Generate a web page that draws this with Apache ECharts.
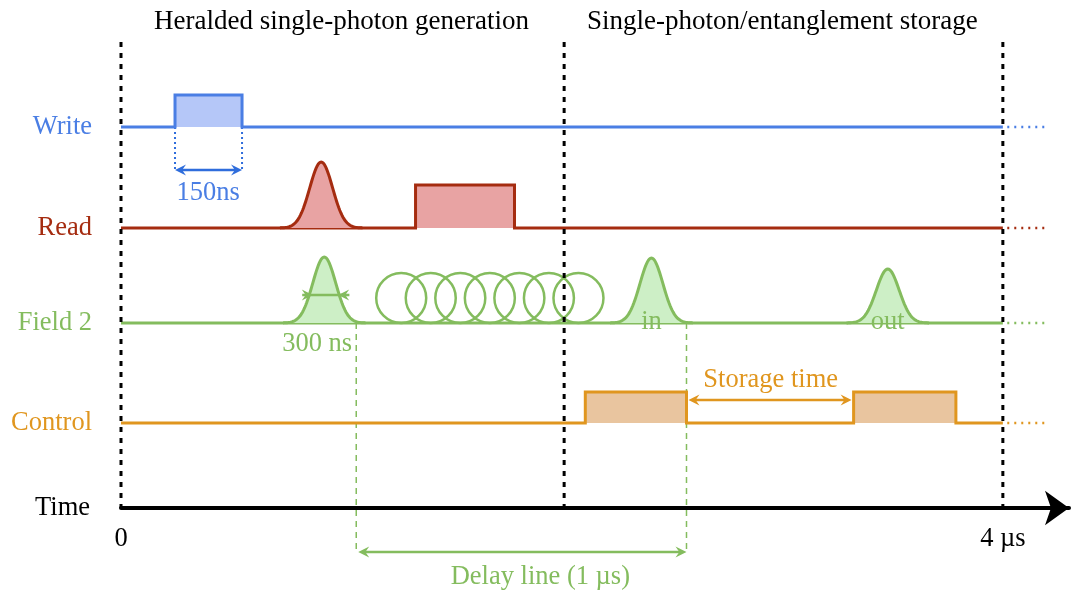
<!DOCTYPE html>
<html><head><meta charset="utf-8">
<script src="https://cdn.jsdelivr.net/npm/echarts@6/dist/echarts.min.js"></script>
<style>html,body{margin:0;padding:0;background:#fff}#c{width:1072px;height:594px}</style>
</head><body><div id="c"></div>
<script>
const FONT = '"Liberation Serif", "DejaVu Serif", serif';
const FS = 26.5;

// ---- rows (signal channels) ----
const rowNames  = ['Write', 'Read', 'Field 2', 'Control'];
const rowLevels = [3.81, 2.80, 1.85, 0.85];
const rowColors = ['#4a7ee4', '#a52c10', '#84bc5e', '#e0961f'];
const rowFills  = ['#b5c7f8', '#e8a3a3', '#cdefc6', '#e9c59f'];
const inkColors = rowColors.concat(['#000000', '#2f6ddc']);

// ---- time axis (µs) ----
const timeEnd = 4;
const extStart = 4.02, extEnd = 4.2;
const xTickValues = [0, 4];
const xTickLabels = ['0', '4 µs'];

// ---- phases ----
const phaseBounds = [0, 2.01, 4];
const boundTop = 4.66;

// ---- rectangular pulses: row, start, end, height ----
const rectRow    = [0, 1, 3, 3];
const rectStart  = [0.245, 1.336, 2.106, 3.323];
const rectEnd    = [0.549, 1.785, 2.565, 3.787];
const rectHeight = [0.32, 0.43, 0.31, 0.31];

// ---- gaussian pulses: row, centre, sigma, height ----
const gaussRow    = [1, 2, 2, 2];
const gaussCenter = [0.908, 0.922, 2.406, 3.478];
const gaussSigma  = [0.052, 0.052, 0.052, 0.052];
const gaussHeight = [0.66, 0.66, 0.65, 0.54];

// ---- fibre delay-line loops on Field 2 ----
const coilCenters = [1.271, 1.405, 1.539, 1.673, 1.807, 1.941, 2.075];
const coilRadius = 0.25;

// ---- guide lines: x, top, bottom, colour index, dash kind ----
const guideX      = [0.245, 0.549, 1.067, 2.565];
const guideTop    = [3.81, 3.81, 1.85, 1.85];
const guideBottom = [3.38, 3.38, -0.46, -0.46];
const guideColor  = [5, 5, 2, 2];
const guideDotted = [true, true, false, false];

// ---- span arrows ----
const spanFrom    = [0.245, 0.822, 1.076, 2.574];
const spanTo      = [0.549, 1.036, 2.565, 3.314];
const spanTipFrom = [0.245, 0.870, 1.076, 2.574];
const spanTipTo   = [0.549, 0.985, 2.565, 3.314];
const spanLevel   = [3.38, 2.13, -0.44, 1.08];
const spanColor   = [5, 2, 2, 3];

// ---- texts ----
const textStr   = ['Heralded single-photon generation', 'Single-photon/entanglement storage',
                   '150ns', '300 ns', 'Delay line (1 µs)', 'Storage time', 'in', 'out'];
const textX     = [1.0, 3.0, 0.395, 0.89, 1.902, 2.947, 2.406, 3.478];
const textY     = [4.86, 4.86, 3.15, 1.64, -0.69, 1.28, 1.86, 1.86];
const textColor = [4, 4, 0, 2, 2, 3, 2, 2];
const textSize  = [27, 27, FS, FS, FS, FS, FS, FS];

// ================= build =================
function stepPath(r) {
  const b = rowLevels[r];
  const pts = [[0, b]];
  rectStart.forEach((s, i) => {
    if (rectRow[i] === r) {
      const h = rectHeight[i];
      pts.push([s, b], [s, b + h], [rectEnd[i], b + h], [rectEnd[i], b]);
    }
  });
  pts.push([timeEnd, b]);
  return pts;
}

function arrowHead(tip, dir, L, W) {
  const [x, y] = tip;
  return {
    type: 'polygon',
    shape: { points: [[x, y], [x - dir * L, y - W], [x - dir * L * 0.65, y], [x - dir * L, y + W]] }
  };
}

const series = [];

// rectangle fills
series.push({
  type: 'custom', z: 1, silent: true,
  data: rectStart.map((s, i) => [s, rectEnd[i], rowLevels[rectRow[i]], rectHeight[i], rectRow[i]]),
  renderItem(params, api) {
    const p1 = api.coord([api.value(0), api.value(2) + api.value(3)]);
    const p2 = api.coord([api.value(1), api.value(2)]);
    return { type: 'rect', shape: { x: p1[0], y: p1[1], width: p2[0] - p1[0], height: p2[1] - p1[1] },
      style: { fill: rowFills[api.value(4)] } };
  }
});

// signal lines
rowNames.forEach((n, r) => {
  series.push({
    type: 'line', name: n, z: 3, silent: true, showSymbol: false, symbol: 'none',
    data: stepPath(r),
    lineStyle: { color: rowColors[r], width: 3, join: 'miter' }
  });
  series.push({
    type: 'line', z: 3, silent: true, showSymbol: false, symbol: 'none',
    data: [[extStart, rowLevels[r]], [extEnd, rowLevels[r]]],
    lineStyle: { color: rowColors[r], width: 2.5, type: [2, 5] }
  });
});

// gaussian pulses
series.push({
  type: 'custom', z: 4, silent: true,
  data: gaussCenter.map((c, i) => [c, gaussSigma[i], gaussHeight[i], rowLevels[gaussRow[i]], gaussRow[i]]),
  renderItem(params, api) {
    const c = api.value(0), s = api.value(1), h = api.value(2), b = api.value(3), r = api.value(4);
    const pts = [];
    const N = 80;
    for (let k = 0; k <= N; k++) {
      const t = -3.6 + 7.2 * k / N;
      pts.push(api.coord([c + t * s, b + h * Math.exp(-t * t / 2)]));
    }
    return { type: 'group', children: [
      { type: 'polygon', shape: { points: pts }, style: { fill: rowFills[r] } },
      { type: 'polyline', shape: { points: pts }, style: { stroke: rowColors[r], lineWidth: 3, fill: null } }
    ] };
  }
});

// coils
series.push({
  type: 'custom', z: 4, silent: true,
  data: coilCenters.map(c => [c, rowLevels[2] + coilRadius]),
  renderItem(params, api) {
    const p = api.coord([api.value(0), api.value(1)]);
    const rad = api.size([0, coilRadius])[1];
    return { type: 'circle', shape: { cx: p[0], cy: p[1], r: rad },
      style: { stroke: rowColors[2], lineWidth: 2.5, fill: null } };
  }
});

// guide lines
series.push({
  type: 'custom', z: 2, silent: true,
  data: guideX.map((x, i) => [x, guideTop[i], guideBottom[i]]),
  renderItem(params, api) {
    const i = params.dataIndex;
    const a = api.coord([api.value(0), api.value(1)]);
    const b = api.coord([api.value(0), api.value(2)]);
    return { type: 'line', shape: { x1: a[0], y1: a[1], x2: b[0], y2: b[1] },
      style: { stroke: inkColors[guideColor[i]], lineWidth: guideDotted[i] ? 2 : 1.5,
               lineDash: guideDotted[i] ? [2, 3] : [6, 5] } };
  }
});

// span arrows
series.push({
  type: 'custom', z: 5, silent: true,
  data: spanFrom.map((f, i) => [f, spanTo[i], spanLevel[i]]),
  renderItem(params, api) {
    const i = params.dataIndex;
    const col = inkColors[spanColor[i]];
    const a = api.coord([spanFrom[i], spanLevel[i]]);
    const b = api.coord([spanTo[i], spanLevel[i]]);
    const ta = api.coord([spanTipFrom[i], spanLevel[i]]);
    const tb = api.coord([spanTipTo[i], spanLevel[i]]);
    const dA = spanTipFrom[i] > spanFrom[i] ? 1 : -1;
    const dB = spanTipTo[i] < spanTo[i] ? -1 : 1;
    const hA = arrowHead(ta, dA, 11, 5.5); hA.style = { fill: col };
    const hB = arrowHead(tb, dB, 11, 5.5); hB.style = { fill: col };
    return { type: 'group', children: [
      { type: 'line', shape: { x1: a[0] + (dA < 0 ? 4 : 0), y1: a[1], x2: b[0] - (dB > 0 ? 4 : 0), y2: b[1] },
        style: { stroke: col, lineWidth: 2.5 } },
      hA, hB
    ] };
  }
});

// phase boundaries
series.push({
  type: 'custom', z: 6, silent: true,
  data: phaseBounds.map(x => [x, 0, boundTop]),
  renderItem(params, api) {
    const a = api.coord([api.value(0), api.value(2)]);
    const b = api.coord([api.value(0), api.value(1)]);
    return { type: 'line', shape: { x1: a[0], y1: a[1], x2: b[0], y2: b[1] },
      style: { stroke: '#000', lineWidth: 3, lineDash: [5, 6] } };
  }
});

// texts
series.push({
  type: 'custom', z: 7, silent: true,
  data: textX.map((x, i) => [x, textY[i]]),
  renderItem(params, api) {
    const i = params.dataIndex;
    const p = api.coord([api.value(0), api.value(1)]);
    return { type: 'text', x: p[0], y: p[1],
      style: { text: textStr[i], fill: inkColors[textColor[i]], font: textSize[i] + 'px ' + FONT,
               align: 'center', verticalAlign: 'middle' } };
  }
});

const option = {
  animation: false,
  backgroundColor: '#ffffff',
  grid: { left: 121, right: 3, top: 0, bottom: 86 },
  xAxis: {
    type: 'value', min: 0, max: 4.3,
    name: 'Time', nameLocation: 'start', nameGap: 31,
    nameTextStyle: { color: '#000', fontFamily: FONT, fontSize: FS, verticalAlign: 'middle' },
    axisLine: { show: true, symbol: ['none', 'arrow'], symbolSize: [26, 24],
      lineStyle: { color: '#000', width: 4 } },
    axisTick: { show: false },
    splitLine: { show: false },
    axisLabel: {
      customValues: xTickValues, margin: 18,
      color: '#000', fontFamily: FONT, fontSize: FS,
      formatter: v => xTickLabels[xTickValues.indexOf(v)]
    }
  },
  yAxis: {
    type: 'value', min: 0, max: 5.08,
    axisLine: { show: false }, axisTick: { show: false }, splitLine: { show: false },
    axisLabel: {
      customValues: rowLevels, margin: 29,
      fontFamily: FONT, fontSize: FS,
      formatter: v => rowNames[rowLevels.findIndex(l => Math.abs(l - v) < 1e-6)],
      color: v => rowColors[rowLevels.findIndex(l => Math.abs(l - v) < 1e-6)]
    }
  },
  series
};

const chart = echarts.init(document.getElementById('c'));
chart.setOption(option);
</script>
</body></html>
